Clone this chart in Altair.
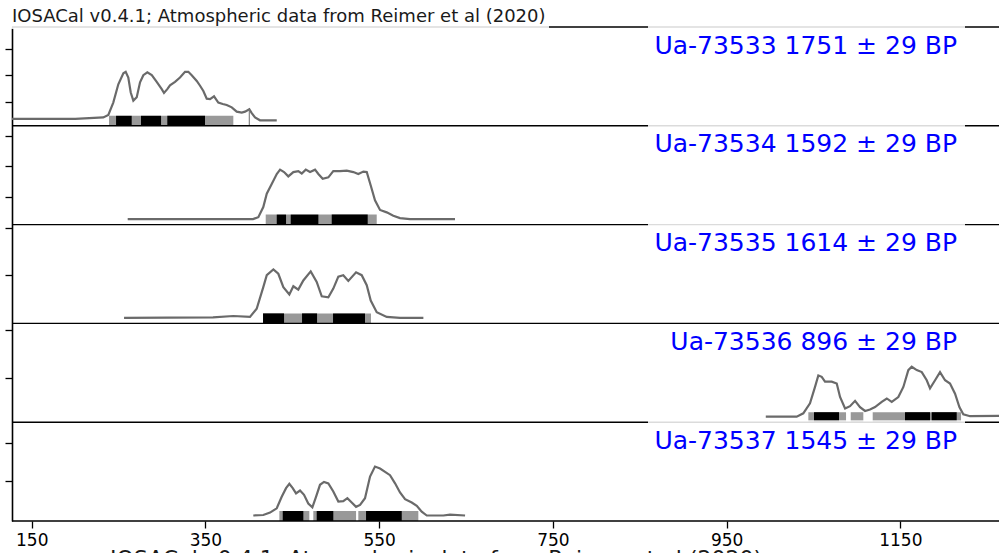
import altair as alt
import pandas as pd

# ---- Calibrated dates -------------------------------------------------------
labels = [
    "Ua-73533 1751 ± 29 BP",
    "Ua-73534 1592 ± 29 BP",
    "Ua-73535 1614 ± 29 BP",
    "Ua-73536 896 ± 29 BP",
    "Ua-73537 1545 ± 29 BP",
]
credit = "IOSACal v0.4.1; Atmospheric data from Reimer et al (2020)"

# Probability curves: calendar year (AD) and relative probability
p1_year = [120, 200, 232.4, 238.2, 243.9, 249.7, 255.5, 258.2, 261.2, 264, 267, 270.9, 274.7,
           278.5, 283.1, 288.2, 293.9, 299.7, 302.3, 306.1, 309.2, 315, 320.7, 326.5, 330.3,
           334.2, 340, 343.8, 347.6, 351.5, 355.3, 359.9, 364.8, 369.9, 374.5, 380.3, 386,
           391.8, 395.6, 400.5, 403.3, 407.1, 412.8, 420.6, 432.1]
p1_prob = [0.03, 0.03, 0.06, 0.11, 0.37, 0.75, 0.98, 1.01, 0.89, 0.58, 0.41, 0.48, 0.79,
           0.94, 1.0, 0.94, 0.80, 0.65, 0.57, 0.65, 0.73, 0.80, 0.89, 1.01, 1.01,
           0.94, 0.82, 0.72, 0.61, 0.45, 0.44, 0.50, 0.37, 0.34, 0.32, 0.27, 0.18,
           0.16, 0.18, 0.23, 0.15, 0.06, 0.0, 0.0, 0.0]

p2_year = [260.5, 404.8, 410.9, 416.6, 420.6, 426.3, 432.1, 435.9, 440.5, 445.4, 451.2, 456.9,
           460.9, 465.5, 470.4, 476.2, 480, 485, 491.5, 497.2, 504.9, 512.7, 520.3, 526,
           531.8, 535.7, 540.3, 545.2, 551, 558.7, 566.3, 574, 585.5, 637.3]
p2_prob = [0, 0, 0.04, 0.25, 0.53, 0.73, 0.94, 1.03, 0.98, 0.89, 0.98, 1.0,
           0.95, 1.03, 0.98, 1.03, 0.94, 0.84, 0.87, 1.0, 1.0, 1.01, 0.98, 0.94,
           0.99, 0.98, 0.70, 0.39, 0.19, 0.14, 0.07, 0.02, 0, 0]

p3_year = [256.3, 358.7, 382.1, 401.3, 409, 416.6, 420.6, 428.2, 433.9, 439.7, 446.6, 451.2,
           456.9, 462.7, 471.2, 478.1, 483.9, 491.5, 497.2, 503, 508.7, 514.5, 523.4, 529.9,
           535.7, 540.3, 547.2, 558.7, 574, 600.9]
p3_prob = [0, 0.01, 0.04, 0.02, 0.19, 0.64, 0.89, 1.01, 0.92, 0.64, 0.49, 0.66,
           0.59, 0.78, 0.97, 0.75, 0.45, 0.43, 0.61, 0.86, 0.89, 0.77, 0.95, 0.89,
           0.68, 0.36, 0.12, 0.02, 0, 0]

p4_year = [995.1, 1030.7, 1038.3, 1046, 1051.8, 1055.6, 1059.5, 1063.3, 1071, 1076.8, 1080.6,
           1086.4, 1092.1, 1097.9, 1103.6, 1109.4, 1115.1, 1120.9, 1128.6, 1134.4, 1140.1,
           1147.7, 1153.5, 1159.2, 1163.1, 1168.9, 1174.7, 1180.4, 1184.2, 1190, 1195.7,
           1201.5, 1207.2, 1213, 1218, 1222.5, 1230.3, 1270]
p4_prob = [0, 0, 0.07, 0.28, 0.62, 0.86, 0.83, 0.73, 0.73, 0.69, 0.41,
           0.17, 0.22, 0.33, 0.20, 0.12, 0.15, 0.20, 0.31, 0.38, 0.31,
           0.41, 0.62, 0.97, 1.04, 0.97, 0.93, 0.76, 0.59, 0.76, 0.93,
           0.76, 0.69, 0.48, 0.20, 0.05, 0.01, 0.02]

p5_year = [405.1, 416.6, 424.4, 432.1, 437.8, 442.8, 446.6, 450.5, 454.3, 458.9, 463.5, 468.4,
           473.1, 477.3, 481.9, 486.5, 491.5, 497.2, 503, 508.7, 513.4, 518.4, 523.4, 528,
           533.7, 539.5, 545.2, 551, 556.8, 562.5, 568.3, 574, 579.8, 587.5, 593.3, 599,
           604.8, 623.9, 631.6, 648.9]
p5_prob = [0, 0.01, 0.06, 0.15, 0.39, 0.57, 0.66, 0.57, 0.46, 0.52, 0.43, 0.25,
           0.17, 0.39, 0.64, 0.70, 0.67, 0.50, 0.29, 0.30, 0.36, 0.27, 0.18, 0.22,
           0.36, 0.81, 1.02, 0.98, 0.91, 0.84, 0.67, 0.48, 0.34, 0.27, 0.20, 0.08,
           0, 0, 0.02, 0]

curves = [(p1_year, p1_prob), (p2_year, p2_prob), (p3_year, p3_prob),
          (p4_year, p4_prob), (p5_year, p5_prob)]

# Highest posterior density ranges (cal AD)
hpd95 = [
    [(239.0, 382.1)],
    [(419.4, 547.2)],
    [(416.3, 540.6)],
    [(1044.1, 1087.5), (1092.9, 1107.4), (1118.2, 1219.9)],
    [(435.1, 469.6), (474.2, 523.4), (526.0, 595.1)],
]
hpd68 = [
    [(247.1, 265.1), (275.8, 298.9), (306.1, 349.5)],
    [(432.1, 442.8), (448.2, 480.0), (495.4, 536.8)],
    [(416.3, 440.5), (461.2, 478.5), (496.9, 533.7)],
    [(1050.6, 1079.4), (1155.4, 1184.2), (1186.1, 1214.9)],
    [(439.0, 462.7), (478.1, 497.2), (534.9, 576.0)],
]
# one-year 95% range in the first date
p1_spike = (400.5, 0.23)

# y-axis ticks of each panel, in relative probability
tick_probs = [
    [0.385, 0.938, 1.49],
    [0.469, 1.104, 1.74],
    [0.885, 1.865],
    [0.802, 1.802],
    [0.719, 1.51],
]
x_ticks = [150, 350, 550, 750, 950, 1150]
x_domain = [127.3, 1263.6]

# ---- Layout ----------------------------------------------------------------
W, H = 987, 494
N = len(labels)
PANEL_PX = H / N
BASE = 5.5 / PANEL_PX      # lift of the curve above the panel floor
GAIN = 48 / PANEL_PX       # height of relative probability 1.0
BAR = 10 / PANEL_PX        # thickness of the HPD bars
FONT = "DejaVu Sans"


def floor(k):
    return N - 1 - k


curve_df = pd.DataFrame([
    {"panel": k, "year": yr, "y": floor(k) + BASE + p * GAIN}
    for k, (ys, ps) in enumerate(curves) for yr, p in zip(ys, ps)
])


def bars(ranges):
    return pd.DataFrame([
        {"panel": k, "year": a, "end": b, "y": floor(k), "y2": floor(k) + BAR}
        for k, rs in enumerate(ranges) for a, b in rs
    ])


b95 = bars(hpd95)
b68 = bars(hpd68)

spike_df = pd.DataFrame([{"year": p1_spike[0], "y": floor(0),
                          "y2": floor(0) + BASE + p1_spike[1] * GAIN}])

y_tick_vals = [floor(k) + BASE + t * GAIN for k, ts in enumerate(tick_probs) for t in ts]

xs = alt.Scale(domain=x_domain, nice=False, zero=False)
ys = alt.Scale(domain=[0, N], nice=False, zero=False)

x_axis = alt.Axis(values=x_ticks, format="d", labelFont=FONT, labelFontSize=17,
                  labelColor="black", tickSize=7, tickWidth=1.3, tickColor="black",
                  domain=False, grid=False, title=None, labelPadding=4)
y_axis = alt.Axis(values=y_tick_vals, labels=False, tickSize=7, tickWidth=1.3,
                  tickColor="black", domain=True, domainColor="black",
                  domainWidth=1.6, grid=False, title=None)

X = alt.X("year:Q", scale=xs, axis=x_axis)
Y = alt.Y("y:Q", scale=ys, axis=y_axis)

curve = alt.Chart(curve_df).mark_line(color="#6a6a6a", strokeWidth=2.2, clip=True).encode(
    x=X, y=Y, detail="panel:N", order="year:Q",
)

bar95 = alt.Chart(b95).mark_rect(color="#999999").encode(x=X, x2="end:Q", y=Y, y2="y2:Q")
bar68 = alt.Chart(b68).mark_rect(color="black").encode(x=X, x2="end:Q", y=Y, y2="y2:Q")
spike = alt.Chart(spike_df).mark_rule(color="#777777", strokeWidth=1.1).encode(
    x=X, y=Y, y2="y2:Q",
)

# panel frames
frames = alt.Chart(pd.DataFrame({"y": list(range(N + 1))})).mark_rule(
    color="black", strokeWidth=1.4).encode(
    y=Y, x=alt.value(0), x2=alt.value(W),
)

# translucent label backgrounds
box_df = pd.DataFrame([{"panel": k, "y": N - k + 0.02, "y2": N - k - 0.42}
                       for k in range(N) if k != 3])
boxes = alt.Chart(box_df).mark_rect(color="white", opacity=0.86).encode(
    y=Y, y2="y2:Q", x=alt.value(636), x2=alt.value(953),
)

label_df = pd.DataFrame([{"panel": k, "text": t, "y": N - k - 26.5 / PANEL_PX}
                         for k, t in enumerate(labels)])
label_marks = alt.Chart(label_df).mark_text(
    align="right", baseline="alphabetic", font=FONT, fontSize=25, color="#0000ff"
).encode(y=Y, x=alt.value(945), text="text:N")

title_box = alt.Chart(pd.DataFrame({"t": [credit]})).mark_rect(
    color="white", opacity=0.86).encode(
    x=alt.value(-12), x2=alt.value(537), y=alt.value(-24), y2=alt.value(2),
)
title = alt.Chart(pd.DataFrame({"t": [credit]})).mark_text(
    align="left", baseline="alphabetic", font=FONT, fontSize=18, color="#1a1a1a"
).encode(x=alt.value(0), y=alt.value(-5.5), text="t:N")

# repeated credit line at the foot of the figure, running off the lower edge
footer = alt.Chart(pd.DataFrame({"t": [credit]})).mark_text(
    align="left", baseline="alphabetic", font=FONT, fontSize=22, color="#1a1a1a"
).encode(x=alt.value(98), y=alt.value(H + 45), text="t:N")

chart = alt.layer(
    curve, bar95, bar68, spike, frames, boxes, label_marks, title_box, title, footer
).properties(
    width=W, height=H,
    padding={"left": 12, "top": 27, "right": 0, "bottom": 32},
    autosize=alt.AutoSizeParams(type="none"),
).configure_view(stroke=None)

chart.save("out.html", embed_options={"renderer": "svg", "actions": False})
